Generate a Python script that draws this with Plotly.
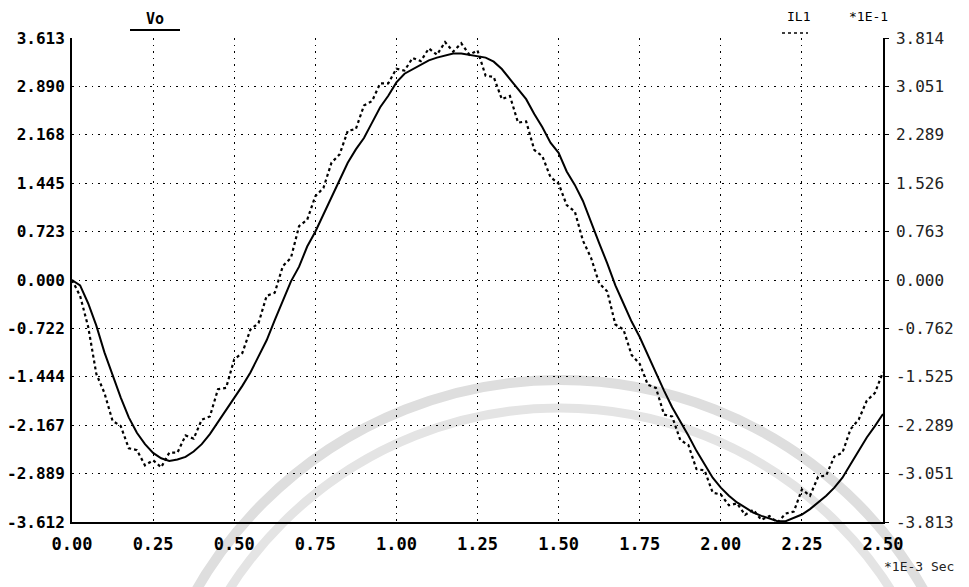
import plotly.graph_objects as go

# time axis (x 1E-3 s)
t = [0.000, 0.025, 0.050, 0.075, 0.100, 0.125, 0.150, 0.175, 0.200, 0.225,
     0.250, 0.275, 0.300, 0.325, 0.350, 0.375, 0.400, 0.425, 0.450, 0.475,
     0.500, 0.525, 0.550, 0.575, 0.600, 0.625, 0.650, 0.675, 0.700, 0.725,
     0.750, 0.775, 0.800, 0.825, 0.850, 0.875, 0.900, 0.925, 0.950, 0.975,
     1.000, 1.025, 1.050, 1.075, 1.100, 1.125, 1.150, 1.175, 1.200, 1.225,
     1.250, 1.275, 1.300, 1.325, 1.350, 1.375, 1.400, 1.425, 1.450, 1.475,
     1.500, 1.525, 1.550, 1.575, 1.600, 1.625, 1.650, 1.675, 1.700, 1.725,
     1.750, 1.775, 1.800, 1.825, 1.850, 1.875, 1.900, 1.925, 1.950, 1.975,
     2.000, 2.025, 2.050, 2.075, 2.100, 2.125, 2.150, 2.175, 2.200, 2.225,
     2.250, 2.275, 2.300, 2.325, 2.350, 2.375, 2.400, 2.425, 2.450, 2.475,
     2.500]

# Vo (left axis)
vo = [0.00, -0.08, -0.35, -0.68, -1.08, -1.42, -1.75, -2.05, -2.28, -2.45,
      -2.58, -2.66, -2.70, -2.68, -2.64, -2.56, -2.45, -2.30, -2.12, -1.95,
      -1.75, -1.58, -1.38, -1.15, -0.90, -0.60, -0.32, -0.02, 0.20, 0.50,
      0.72, 0.98, 1.22, 1.50, 1.75, 1.95, 2.12, 2.35, 2.58, 2.75,
      2.95, 3.08, 3.15, 3.22, 3.28, 3.32, 3.35, 3.38, 3.38, 3.36,
      3.34, 3.32, 3.26, 3.15, 3.00, 2.85, 2.70, 2.48, 2.28, 2.05,
      1.90, 1.62, 1.42, 1.18, 0.85, 0.55, 0.25, -0.08, -0.35, -0.62,
      -0.85, -1.12, -1.40, -1.65, -1.90, -2.10, -2.32, -2.55, -2.75, -2.95,
      -3.10, -3.22, -3.32, -3.40, -3.47, -3.52, -3.56, -3.60, -3.60, -3.55,
      -3.50, -3.42, -3.32, -3.22, -3.10, -2.95, -2.75, -2.55, -2.35, -2.18,
      -2.00]

# IL1 (right axis, x 1E-1)
il1 = [0.00, -0.25, -0.74, -1.48, -1.78, -2.22, -2.30, -2.65, -2.68, -2.92,
       -2.84, -2.95, -2.72, -2.72, -2.45, -2.50, -2.20, -2.15, -1.72, -1.70,
       -1.25, -1.15, -0.78, -0.68, -0.25, -0.20, 0.22, 0.35, 0.85, 0.95,
       1.32, 1.45, 1.85, 1.98, 2.35, 2.38, 2.75, 2.82, 3.10, 3.10,
       3.33, 3.30, 3.50, 3.45, 3.65, 3.55, 3.75, 3.60, 3.73, 3.55,
       3.62, 3.22, 3.20, 2.85, 2.90, 2.48, 2.50, 2.05, 1.95, 1.62,
       1.52, 1.18, 1.08, 0.62, 0.35, -0.05, -0.18, -0.70, -0.78, -1.18,
       -1.32, -1.65, -1.70, -2.12, -2.15, -2.52, -2.60, -2.98, -3.00, -3.35,
       -3.38, -3.55, -3.52, -3.70, -3.62, -3.78, -3.72, -3.82, -3.68, -3.65,
       -3.30, -3.40, -3.10, -3.08, -2.78, -2.72, -2.35, -2.20, -1.90, -1.78,
       -1.45]

x_ticks = [0.0, 0.25, 0.5, 0.75, 1.0, 1.25, 1.5, 1.75, 2.0, 2.25, 2.5]
x_labels = ["0.00", "0.25", "0.50", "0.75", "1.00", "1.25", "1.50", "1.75", "2.00", "2.25", "2.50"]
left_ticks = [3.613, 2.890, 2.168, 1.445, 0.723, 0.0, -0.722, -1.444, -2.167, -2.889, -3.612]
left_labels = ["3.613", "2.890", "2.168", "1.445", "0.723", "0.000", "-0.722", "-1.444", "-2.167", "-2.889", "-3.612"]
right_ticks = [3.814, 3.051, 2.289, 1.526, 0.763, 0.0, -0.762, -1.525, -2.289, -3.051, -3.813]
right_labels = ["3.814", "3.051", "2.289", "1.526", "0.763", "0.000", "-0.762", "-1.525", "-2.289", "-3.051", "-3.813"]

MONO = "DejaVu Sans Mono"

fig = go.Figure()
fig.add_trace(go.Scatter(x=t, y=vo, mode="lines", name="Vo",
                         line=dict(color="black", width=2), yaxis="y"))
fig.add_trace(go.Scatter(x=t, y=il1, mode="lines", name="IL1",
                         line=dict(color="black", width=2.2, dash="dot"), yaxis="y2"))

W, H = 969, 587
OFF = 8  # page body margin
L, R, T, B = 64, 94, 30, 73
pw, ph = W - L - R, H - T - B


def px(xp):  # page pixel -> paper x
    return (xp - OFF - L) / pw


def py(yp):  # page pixel -> paper y
    return (H - B - (yp - OFF)) / ph


shapes = [
    # faint watermark arcs
    dict(type="circle", xref="paper", yref="paper", layer="below",
         x0=px(560 - 420), x1=px(560 + 420), y0=py(800 + 420), y1=py(800 - 420),
         line=dict(color="#dedede", width=10)),
    dict(type="circle", xref="paper", yref="paper", layer="below",
         x0=px(560 - 392), x1=px(560 + 392), y0=py(800 + 392), y1=py(800 - 392),
         line=dict(color="#e4e4e4", width=9)),
    # legend underlines
    dict(type="line", xref="paper", yref="paper", x0=px(130), x1=px(180),
         y0=py(30), y1=py(30), line=dict(color="black", width=2)),
    dict(type="line", xref="paper", yref="paper", x0=px(782), x1=px(808),
         y0=py(33), y1=py(33), line=dict(color="black", width=1.5, dash="dot")),
]

annotations = [
    dict(text="<b>Vo</b>", xref="paper", yref="paper", x=px(155), y=py(19),
         yanchor="middle", xanchor="center", showarrow=False,
         font=dict(family=MONO, size=15, color="black")),
    dict(text="IL1", xref="paper", yref="paper", x=px(798), y=py(16),
         yanchor="middle", xanchor="center", showarrow=False,
         font=dict(family=MONO, size=13, color="black")),
    dict(text="*1E-1", xref="paper", yref="paper", x=px(868), y=py(16),
         yanchor="middle", xanchor="center", showarrow=False,
         font=dict(family=MONO, size=13, color="black")),
    dict(text="*1E-3 Sec", xref="paper", yref="paper", x=px(956), y=py(566),
         yanchor="middle", xanchor="right", showarrow=False,
         font=dict(family=MONO, size=13, color="#222222")),
]

fig.update_layout(
    width=W, height=H,
    margin=dict(l=L, r=R, t=T, b=B),
    paper_bgcolor="white", plot_bgcolor="white",
    showlegend=False,
    shapes=shapes, annotations=annotations,
    xaxis=dict(range=[0, 2.5], tickvals=x_ticks, ticktext=x_labels,
               automargin=False,
               showgrid=True, gridcolor="black", griddash="1.5px,5px", gridwidth=1.2,
               zeroline=False, showline=True, linecolor="black", linewidth=2,
               ticks="", ticklabelstandoff=6,
               tickfont=dict(family=MONO, size=17, color="black", weight="bold")),
    yaxis=dict(range=[-3.612, 3.613], tickvals=left_ticks, ticktext=left_labels,
               automargin=False,
               showgrid=True, gridcolor="black", griddash="1.5px,5px", gridwidth=1.2,
               zeroline=False, showline=True, linecolor="black", linewidth=2,
               ticks="", ticklabelstandoff=2,
               tickfont=dict(family=MONO, size=16, color="black", weight="bold")),
    yaxis2=dict(range=[-3.813, 3.814], tickvals=right_ticks, ticktext=right_labels,
                automargin=False,
                overlaying="y", side="right", showgrid=False, zeroline=False,
                showline=True, linecolor="black", linewidth=1.5,
                ticks="outside", ticklen=4, tickcolor="black", ticklabelstandoff=4,
                tickfont=dict(family=MONO, size=16, color="#222222")),
)

fig.write_html("out.html")
